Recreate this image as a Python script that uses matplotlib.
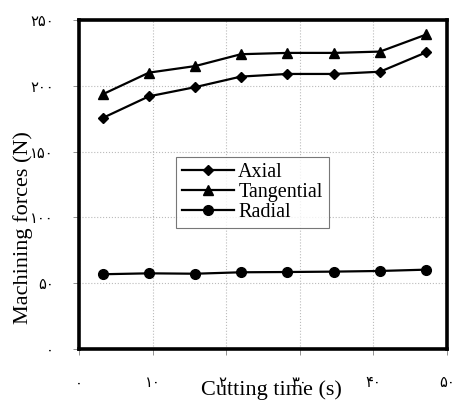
import matplotlib
matplotlib.use('Agg')
import matplotlib.pyplot as plt

time = [3.2, 9.5, 15.8, 22.0, 28.3, 34.7, 40.9, 47.2]
axial = [175.5, 192.0, 199.0, 207.0, 209.0, 209.0, 210.7, 225.5]
tangential = [193.5, 210.0, 215.0, 224.0, 225.0, 225.0, 226.0, 239.0]
radial = [56.8, 57.5, 57.2, 58.3, 58.5, 58.8, 59.3, 60.3]

x_ticks = [0, 10, 20, 30, 40, 50]
y_ticks = [0, 50, 100, 150, 200, 250]
persian = str.maketrans('0123456789', '۰۱۲۳۴۵۶۷۸۹')

plt.rcParams['font.family'] = ['Liberation Serif', 'DejaVu Sans']

fig = plt.figure(figsize=(4.54, 4.0), dpi=100)
ax = fig.add_axes([79 / 454, 51 / 400, 368 / 454, 329 / 400])

ax.plot(time, axial, color='black', lw=1.6, marker='D', ms=5.5, label='Axial')
ax.plot(time, tangential, color='black', lw=1.6, marker='^', ms=7, label='Tangential')
ax.plot(time, radial, color='black', lw=1.6, marker='o', ms=7, label='Radial')

ax.set_xlim(0, 50)
ax.set_ylim(0, 250)
ax.set_xticks(x_ticks)
ax.set_yticks(y_ticks)
ax.set_xticklabels([str(v).translate(persian) for v in x_ticks], family=['DejaVu Sans'], fontsize=10.5)
ax.set_yticklabels([str(v).translate(persian) for v in y_ticks], family=['DejaVu Sans'], fontsize=10.5)
ax.tick_params(axis='x', length=4, width=0.6, pad=15, color='gray')
ax.tick_params(axis='y', length=4, width=0.6, pad=14, color='gray')

ax.grid(True, color='#bbbbbb', linestyle=':', linewidth=0.8)
for s in ax.spines.values():
    s.set_linewidth(2.6)

ax.set_xlabel('Cutting time (s)', fontsize=16)
ax.xaxis.set_label_coords(0.524, -0.095)
ax.set_ylabel('Machining forces (N)', fontsize=16)
ax.yaxis.set_label_coords(-0.125, 0.37)

leg = ax.legend(loc='lower left', bbox_to_anchor=(0.263, 0.368), fontsize=14.5,
                handlelength=2.6, frameon=True, fancybox=False, edgecolor='#555555',
                borderpad=0.3, labelspacing=0.03, handletextpad=0.2, borderaxespad=0)
leg.get_frame().set_linewidth(0.8)

fig.savefig('out.png', dpi=100)
